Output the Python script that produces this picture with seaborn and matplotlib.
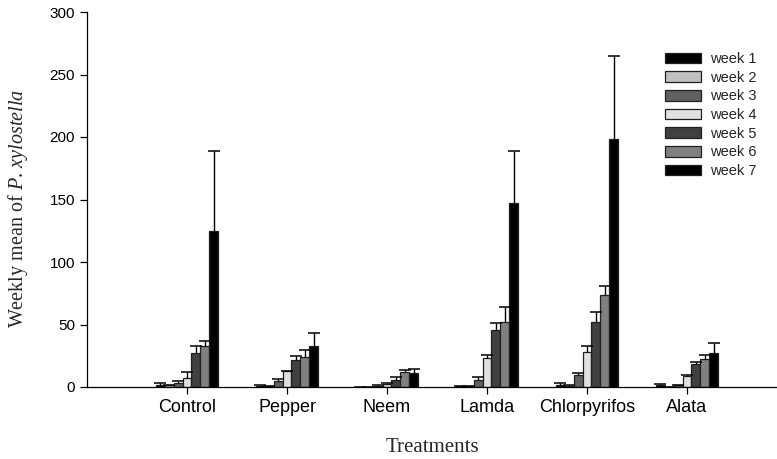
import numpy as np
import pandas as pd
import matplotlib
matplotlib.use("Agg")
import matplotlib.pyplot as plt
import seaborn as sns

treatments = ["Control", "Pepper", "Neem", "Lamda", "Chlorpyrifos", "Alata"]
weeks = ["week 1", "week 2", "week 3", "week 4", "week 5", "week 6", "week 7"]

# mean per week across treatments (order of treatments above)
week1 = [2.0, 1.0, 0.3, 0.8, 1.6, 2.0]
week2 = [1.5, 0.5, 0.3, 0.8, 1.0, 0.2]
week3 = [3.0, 5.0, 1.0, 5.6, 9.4, 1.4]
week4 = [7.5, 12.5, 2.5, 23.0, 27.7, 9.0]
week5 = [27.0, 22.0, 6.0, 46.0, 51.7, 18.6]
week6 = [33.0, 24.0, 12.3, 52.0, 73.3, 22.6]
week7 = [125.0, 33.0, 11.4, 147.0, 198.4, 27.4]

# standard errors (upper bars)
err1 = [1.0, 0.3, 0.1, 0.4, 1.9, 0.8]
err2 = [0.5, 0.2, 0.1, 0.4, 0.5, 0.1]
err3 = [1.8, 1.5, 0.3, 2.7, 1.6, 0.6]
err4 = [4.5, 0.5, 0.7, 2.3, 5.3, 1.0]
err5 = [5.5, 3.0, 1.8, 5.0, 8.6, 1.6]
err6 = [4.0, 6.0, 1.7, 12.0, 7.5, 2.7]
err7 = [64.0, 10.0, 3.0, 42.0, 66.6, 7.6]

means = [week1, week2, week3, week4, week5, week6, week7]
errs = [err1, err2, err3, err4, err5, err6, err7]
colors = ["#000000", "#c0c0c0", "#606060", "#e0e0e0", "#404040", "#808080", "#000000"]

df = pd.DataFrame({
    "Treatment": np.tile(treatments, len(weeks)),
    "Week": np.repeat(weeks, len(treatments)),
    "Mean": np.concatenate(means),
})

sns.set_style("ticks")
plt.rcParams["font.family"] = ["Liberation Sans", "DejaVu Sans"]
plt.rcParams["mathtext.fontset"] = "custom"
plt.rcParams["mathtext.rm"] = "Liberation Serif"
plt.rcParams["mathtext.it"] = "Liberation Serif:italic"

fig = plt.figure(figsize=(7.77, 4.59), dpi=100)
ax = fig.add_axes([87 / 777, 72 / 459, 690 / 777, 375 / 459])

sns.barplot(data=df, x="Treatment", y="Mean", hue="Week", order=treatments,
            hue_order=weeks, palette=colors, width=0.62, errorbar=None,
            edgecolor="#202020", linewidth=0.9, saturation=1, ax=ax)

for cont, e in zip(ax.containers, errs):
    xs = np.array([p.get_x() + p.get_width() / 2 for p in cont])
    hs = np.array([p.get_height() for p in cont])
    e = np.array(e)
    ax.vlines(xs, hs, hs + e, color="black", linewidth=1.0, zorder=1)
    ax.plot(xs, hs + e, ls="none", marker="_", ms=9, mew=1.1, color="black", zorder=3)

ax.set_xlim(-1, 5.9)
ax.set_ylim(0, 300)
ax.set_yticks([0, 50, 100, 150, 200, 250, 300])
sns.despine(ax=ax)
for s in ["left", "bottom"]:
    ax.spines[s].set_linewidth(0.9)
    ax.spines[s].set_color("black")
ax.tick_params(axis="y", labelsize=11, length=5, width=0.9, colors="black")
ax.tick_params(axis="x", labelsize=13, length=5, width=0.9, colors="black")

ax.set_xlabel("Treatments", fontsize=15, family="Liberation Serif", labelpad=16)
ax.set_ylabel(r"Weekly mean of $\mathit{P.\,xylostella}$", fontsize=14.5,
              family="Liberation Serif")
ax.yaxis.set_label_coords(-0.083, 0.477)

handles, labels = ax.get_legend_handles_labels()
ax.legend(handles, labels, loc="upper left", bbox_to_anchor=(665 / 777, 1 - 52 / 459),
          bbox_transform=fig.transFigure, frameon=False, fontsize=10.5,
          handlelength=2.5, handleheight=0.75, labelspacing=0.32, borderpad=0,
          borderaxespad=0, handletextpad=0.6)

fig.savefig("out.png", dpi=100)
